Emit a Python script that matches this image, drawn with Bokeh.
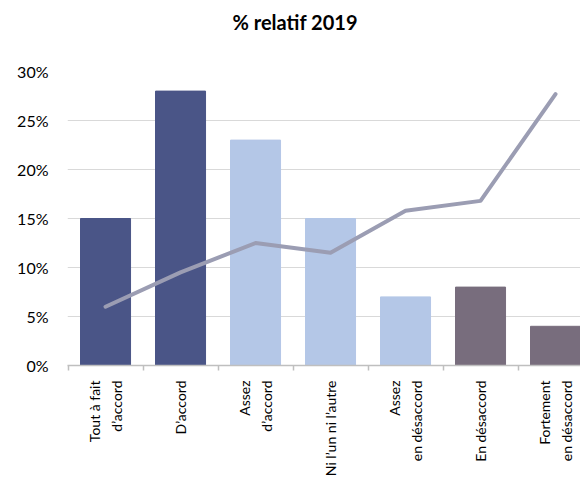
import math
from bokeh.plotting import figure
from bokeh.models import FixedTicker, NumeralTickFormatter, Range1d, ColumnDataSource, Title
from bokeh.embed import file_html
from bokeh.resources import INLINE

title_text = "% relatif 2019"
categories = ["Tout à fait\nd\u2019accord", "D\u2019accord", "Assez\nd\u2019accord",
              "Ni l\u2019un ni l\u2019autre", "Assez\nen désaccord", "En désaccord",
              "Fortement\nen désaccord"]
bar_values = [0.15, 0.28, 0.23, 0.15, 0.07, 0.08, 0.04]
line_values = [0.060, 0.095, 0.125, 0.115, 0.158, 0.168, 0.277]
bar_colors = ["#4a5587", "#4a5587", "#b4c7e7", "#b4c7e7", "#b4c7e7", "#786d7d", "#786d7d"]
y_ticks = [0.0, 0.05, 0.10, 0.15, 0.20, 0.25, 0.30]

xs = list(range(len(categories)))
src = ColumnDataSource(dict(x=xs, bar=bar_values, line=line_values, color=bar_colors))

FONT = "Lato"

p = figure(width=580, height=479, output_backend="svg", toolbar_location=None,
           x_range=Range1d(-0.507, 6.333), y_range=Range1d(0, 0.30),
           min_border_left=67, min_border_right=0, min_border_top=71, min_border_bottom=113,
           title=title_text)
p.outline_line_color = None

p.title.text_font = FONT
p.title.text_font_size = "20px"
p.title.text_font_style = "bold"
p.title.align = "left"
p.title.offset = 165
p.title.text_color = "#000000"
p.title.vertical_align = "bottom"
p.title.standoff = 0

# blank spacer between the title and the plotting area
spacer = Title(text=" ", text_font_size="10px", standoff=25)
p.add_layout(spacer, "above")

p.vbar(x="x", top="bar", width=0.667, color="color", source=src)
p.line(x="x", y="line", source=src, line_color="#9b9db3", line_width=4, line_cap="round", line_join="round")

p.xgrid.visible = False
p.ygrid.grid_line_color = "#d9d9d9"
p.ygrid.grid_line_width = 1

p.yaxis.ticker = FixedTicker(ticks=y_ticks)
p.yaxis.formatter = NumeralTickFormatter(format="0%")
p.yaxis.axis_line_color = None
p.yaxis.major_tick_line_color = None
p.yaxis.minor_tick_line_color = None
p.yaxis.major_tick_out = 0
p.yaxis.major_label_standoff = 19
p.yaxis.major_label_text_font = FONT
p.yaxis.major_label_text_font_size = "16px"
p.yaxis.major_label_text_color = "#000000"

p.xaxis.ticker = FixedTicker(ticks=xs, minor_ticks=[i - 0.5 for i in range(len(categories) + 1)])
p.xaxis.major_label_overrides = {i: c for i, c in enumerate(categories)}
p.xaxis.major_label_orientation = math.pi / 2
p.xaxis.axis_line_color = "#bfbfbf"
p.xaxis.axis_line_width = 1.5
p.xaxis.major_tick_line_color = None
p.xaxis.major_tick_out = 0
p.xaxis.minor_tick_line_color = "#bfbfbf"
p.xaxis.minor_tick_line_width = 1.5
p.xaxis.minor_tick_out = 5
p.xaxis.minor_tick_in = 0
p.xaxis.major_label_standoff = 10
p.xaxis.major_label_text_font = FONT
p.xaxis.major_label_text_font_size = "14px"
p.xaxis.major_label_text_color = "#000000"
p.xaxis.major_label_text_line_height = 1.35
p.xaxis.major_label_text_align = "center"

open("out.html", "w").write(file_html(p, INLINE))
